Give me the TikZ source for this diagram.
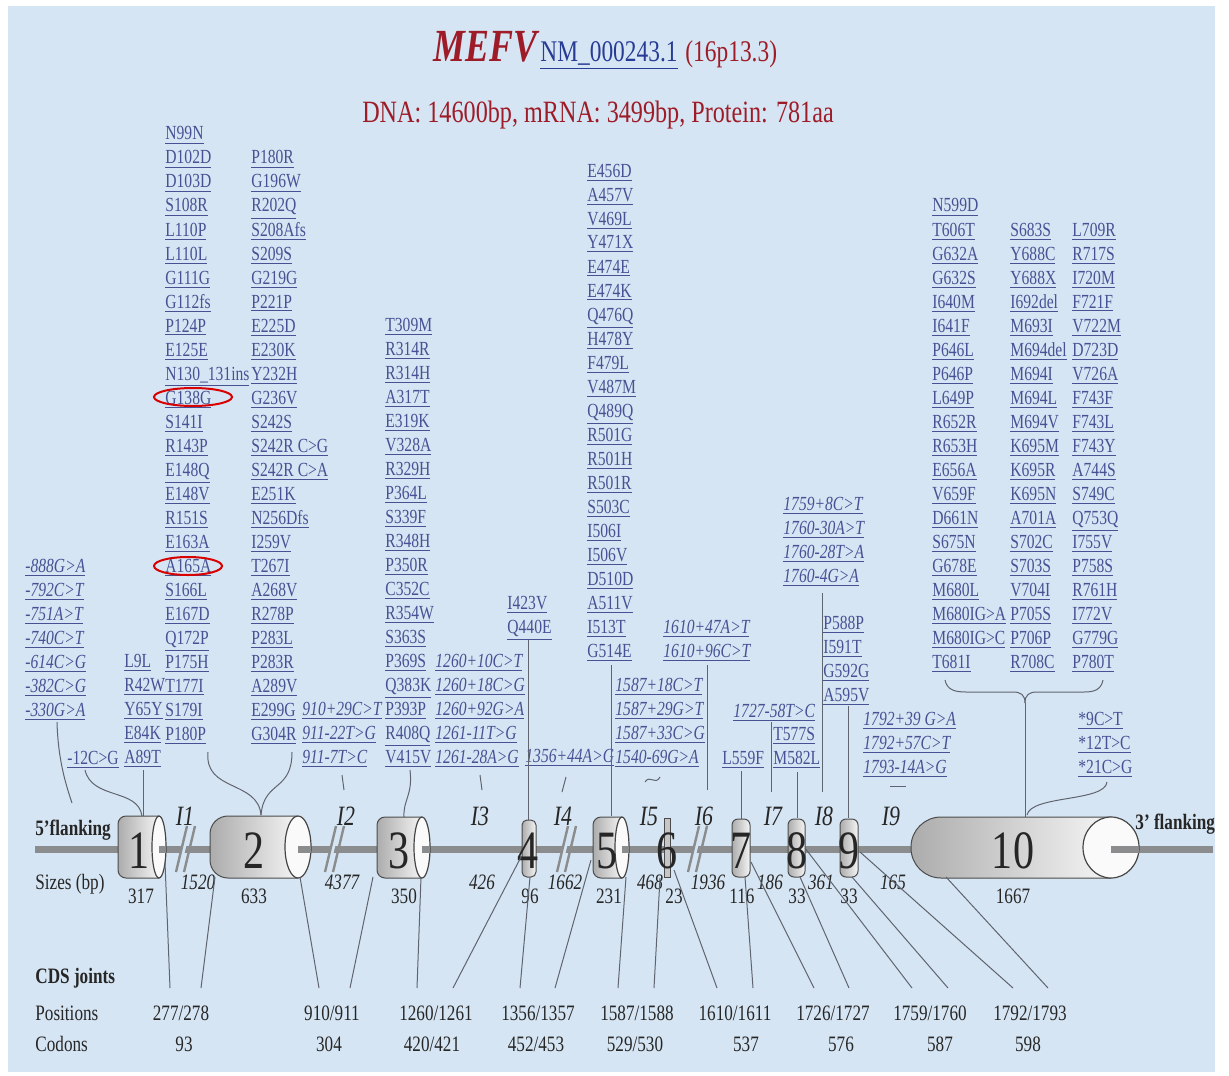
\documentclass[tikz,border=0pt]{standalone}
\usepackage{fontspec}
\setmainfont{Liberation Serif}[FakeStretch=0.78]
\definecolor{bgc}{RGB}{214,229,243}
\definecolor{mutc}{RGB}{70,82,148}
\definecolor{titred}{RGB}{158,28,40}
\definecolor{nmblue}{RGB}{40,60,150}
\definecolor{connc}{RGB}{95,100,110}
\definecolor{genec}{RGB}{138,140,142}
\newcommand\mcol[5]{\foreach \mtxt [count=\i from 0] in {#5} {\node[#4] (#1\i) at (#2,{#3+7+24*\i}) {\underline{\mtxt}};}}
\begin{document}
\begin{tikzpicture}[x=0.5pt,y=-0.5pt,
  mut/.style={font=\fontsize{10}{12}\selectfont, text=mutc, inner sep=0pt, anchor=base west},
  imut/.style={mut, font=\fontsize{10}{12}\selectfont\itshape},
  conn/.style={draw=connc, line width=0.5pt},
  geneline/.style={draw=genec, line width=3.5pt},
  exshade/.style={left color=gray!65, right color=gray!8},
  exedge/.style={draw=gray!60!black, line width=0.5pt},
  capst/.style={fill=gray!4, draw=gray!55!black, line width=0.6pt},
  exnum/.style={font=\fontsize{27}{30}\selectfont, text=black!85, inner sep=0pt, anchor=base},
  intr/.style={font=\fontsize{14}{16}\selectfont\itshape, text=black!85, inner sep=0pt, anchor=base},
  szu/.style={font=\fontsize{11}{13}\selectfont, text=black!85, inner sep=0pt, anchor=base},
  szi/.style={szu, font=\fontsize{11}{13}\selectfont\itshape},
  lbl/.style={font=\fontsize{11}{13}\selectfont, text=black!85, inner sep=0pt, anchor=base west},
  blbl/.style={font=\fontsize{11}{13}\selectfont\bfseries, text=black!85, inner sep=0pt, anchor=base west},
  brk/.style={draw=genec, line width=1.2pt},
  redring/.style={draw=red!85!black, line width=1pt}
]
\useasboundingbox (0,0) rectangle (1229,1075);
\fill[white] (0,0) rectangle (1229,1075);
\fill[bgc] (8,6) rectangle (1215,1072);

% ---------- title ----------
\node[anchor=base west, inner sep=0pt, text=titred, font=\fontsize{23}{27}\selectfont\bfseries\itshape] (mefv) at (433,62) {MEFV};
\node[anchor=base west, inner sep=0pt, text=nmblue, font=\fontsize{15}{18}\selectfont] (nm) at (540,62) {\underline{NM\_000243.1}};
\node[anchor=base west, inner sep=0pt, text=titred, font=\fontsize{15}{18}\selectfont] (loc) at (685,62) {(16p13.3)};
\node[anchor=base, inner sep=0pt, text=titred, font=\fontsize{15.5}{18}\selectfont] (dna) at (598,123) {DNA: 14600bp, mRNA: 3499bp, Protein: 781aa};

% ---------- mutation lists ----------
\mcol{cA}{165}{133}{mut}{N99N,D102D,D103D,S108R,L110P,L110L,G111G,G112fs,P124P,E125E,N130\_131ins,G138G,S141I,R143P,E148Q,E148V,R151S,E163A,A165A,S166L,E167D,Q172P,P175H,T177I,S179I,P180P}
\mcol{cB}{251}{157}{mut}{P180R,G196W,R202Q,S208Afs,S209S,G219G,P221P,E225D,E230K,Y232H,G236V,S242S,S242R C>G,S242R C>A,E251K,N256Dfs,I259V,T267I,A268V,R278P,P283L,P283R,A289V,E299G,G304R}
\mcol{cE}{124}{660}{mut}{L9L,R42W,Y65Y,E84K,A89T}
\node[mut] (m12) at (67,764) {\underline{-12C>G}};
\mcol{cF}{25}{565}{imut}{-888G>A,-792C>T,-751A>T,-740C>T,-614C>G,-382C>G,-330G>A}
\mcol{cI2}{302}{708}{imut}{910+29C>T,911-22T>G,911-7T>C}
\mcol{cC}{385}{324}{mut}{T309M,R314R,R314H,A317T,E319K,V328A,R329H,P364L,S339F,R348H,P350R,C352C,R354W,S363S,P369S,Q383K,P393P,R408Q,V415V}
\mcol{cI3}{435}{660}{imut}{1260+10C>T,1260+18C>G,1260+92G>A,1261-11T>G,1261-28A>G}
\mcol{cD}{507}{602}{mut}{I423V,Q440E}
\node[imut] (i4) at (525,762) {\underline{1356+44A>G}};
\mcol{cG}{587}{170}{mut}{E456D,A457V,V469L,Y471X,E474E,E474K,Q476Q,H478Y,F479L,V487M,Q489Q,R501G,R501H,R501R,S503C,I506I,I506V,D510D,A511V,I513T,G514E}
\mcol{cI5}{615}{684}{imut}{1587+18C>T,1587+29G>T,1587+33C>G,1540-69G>A}
\mcol{cI6}{663}{626}{imut}{1610+47A>T,1610+96C>T}
\node[mut] (e7) at (722,764) {\underline{L559F}};
\node[imut] (i7) at (733,717) {\underline{1727-58T>C}};
\mcol{cH}{773}{733}{mut}{T577S,M582L}
\mcol{cI8}{783}{503}{imut}{1759+8C>T,1760-30A>T,1760-28T>A,1760-4G>A}
\mcol{cJ}{823}{622}{mut}{P588P,I591T,G592G,A595V}
\mcol{cI9}{863}{718}{imut}{1792+39 G>A,1792+57C>T,1793-14A>G}
\mcol{cK}{932}{205}{mut}{N599D,T606T,G632A,G632S,I640M,I641F,P646L,P646P,L649P,R652R,R653H,E656A,V659F,D661N,S675N,G678E,M680L,M680IG>A,M680IG>C,T681I}
\mcol{cL}{1010}{229}{mut}{S683S,Y688C,Y688X,I692del,M693I,M694del,M694I,M694L,M694V,K695M,K695R,K695N,A701A,S702C,S703S,V704I,P705S,P706P,R708C}
\mcol{cM}{1072}{229}{mut}{L709R,R717S,I720M,F721F,V722M,D723D,V726A,F743F,F743L,F743Y,A744S,S749C,Q753Q,I755V,P758S,R761H,I772V,G779G,P780T}
\mcol{cU}{1078}{718}{mut}{*9C>T,*12T>C,*21C>G}

% red rings
\draw[redring] (193,397) ellipse [x radius=19.5pt, y radius=4.5pt];
\draw[redring] (188,566) ellipse [x radius=17pt, y radius=4.5pt];

% ---------- upper connectors ----------
\draw[conn] (57,722) coordinate (u1a) .. controls (58,760) and (66,785) .. (72,803) coordinate (u1b);
\draw[conn] (85,770) coordinate (u2a) .. controls (92,800) and (138,788) .. (142,816) coordinate (u2b);
\draw[conn] (143,770) coordinate (u3a) -- (143,816) coordinate (u3b);
\draw[conn] (208,752) coordinate (u4a) .. controls (204,792) and (258,780) .. (261,815) coordinate (u4b);
\draw[conn] (292,752) coordinate (u5a) .. controls (292,792) and (264,780) .. (u4b);
\draw[conn] (342,775) coordinate (u6a) -- (344,790) coordinate (u6b);
\draw[conn] (410,770) coordinate (u7a) .. controls (413,795) and (403,800) .. (404,817) coordinate (u7b);
\draw[conn] (480,775) coordinate (u8a) -- (482,790) coordinate (u8b);
\draw[conn] (528,640) coordinate (u9a) -- (528,820) coordinate (u9b);
\draw[conn] (566,777) coordinate (u10a) -- (562,792) coordinate (u10b);
\draw[conn] (611,665) coordinate (u11a) -- (611,816) coordinate (u11b);
\draw[conn] (645,782) coordinate (u12a) .. controls (650,774) and (655,786) .. (660,777) coordinate (u12b);
\draw[conn] (707,665) coordinate (u13a) -- (707,790) coordinate (u13b);
\draw[conn] (741,771) coordinate (u14a) -- (741,820) coordinate (u14b);
\draw[conn] (771,722) coordinate (u15a) -- (771,792) coordinate (u15b);
\draw[conn] (797,772) coordinate (u16a) -- (797,818) coordinate (u16b);
\draw[conn] (822,593) coordinate (u17a) -- (822,792) coordinate (u17b);
\draw[conn] (848,706) coordinate (u18a) -- (848,818) coordinate (u18b);
\draw[conn] (890,786) coordinate (u19a) -- (906,786) coordinate (u19b);
\draw[conn] (945,680) coordinate (br1) .. controls (947,690) and (955,692) .. (966,692) -- (1013,692) .. controls (1021,692) and (1025,695) .. (1025,703) coordinate (brt);
\draw[conn] (1103,680) coordinate (br2) .. controls (1101,690) and (1094,692) .. (1084,692) -- (1037,692) .. controls (1029,692) and (1025,695) .. (brt);
\draw[conn] (brt) -- (1025,818) coordinate (u20b);
\draw[conn] (1107,782) coordinate (u21a) .. controls (1105,802) and (1031,795) .. (1027,815) coordinate (u21b);

% ---------- gene line ----------
\draw[geneline] (35,849) coordinate (g0) -- (1213,849) coordinate (g1);
% breaks
\foreach \bx [count=\k] in {176,325,557,688} {
  \fill[bgc] (\bx+2,863) -- (\bx+9,835) -- (\bx+13,835) -- (\bx+6,863) -- cycle;
  \draw[brk] (\bx,872) -- (\bx+11,826);
  \draw[brk] (\bx+8,872) -- (\bx+19,826);
}

% ---------- exons ----------
% exon 1
\shade[exshade] (159,816) [rounded corners=4pt] -- (118,816) -- (118,878) [sharp corners] -- (159,878) -- cycle;
\draw[exedge] (159,816) [rounded corners=4pt] -- (118,816) -- (118,878) [sharp corners] -- (159,878);
\draw[capst] (159,847) ellipse [x radius=3.5pt, y radius=15.5pt];
\draw[geneline] (159,849) -- (166,849);
% exon 2
\shade[exshade] (298,816) [rounded corners=9pt] -- (210,816) -- (210,878) [sharp corners] -- (298,878) -- cycle;
\draw[exedge] (298,816) [rounded corners=9pt] -- (210,816) -- (210,878) [sharp corners] -- (298,878);
\draw[capst] (298,847) ellipse [x radius=6.5pt, y radius=15.5pt];
\draw[geneline] (298,849) -- (311,849);
% exon 3
\shade[exshade] (422,817) [rounded corners=4pt] -- (377,817) -- (377,878) [sharp corners] -- (422,878) -- cycle;
\draw[exedge] (422,817) [rounded corners=4pt] -- (377,817) -- (377,878) [sharp corners] -- (422,878);
\draw[capst] (422,847.5) ellipse [x radius=4pt, y radius=15.25pt];
\draw[geneline] (422,849) -- (430,849);
% exon 4
\shade[exshade, rounded corners=2.5pt] (522,820) rectangle (536,877);
\draw[exedge, rounded corners=2.5pt] (522,820) rectangle (536,877);
% exon 5
\shade[exshade] (622,817) [rounded corners=4pt] -- (593,817) -- (593,878) [sharp corners] -- (622,878) -- cycle;
\draw[exedge] (622,817) [rounded corners=4pt] -- (593,817) -- (593,878) [sharp corners] -- (622,878);
\draw[capst] (622,847.5) ellipse [x radius=3.5pt, y radius=15.25pt];
\draw[geneline] (622,849) -- (629,849);
% exon 6
\fill[gray!45, draw=gray!60!black, line width=0.4pt] (664,818) rectangle (670,877);
% exons 7, 8, 9
\foreach \xa/\xb in {732/750, 788/805, 840/858} {
  \shade[exshade, rounded corners=3pt] (\xa,819) rectangle (\xb,877);
  \draw[exedge, rounded corners=3pt] (\xa,819) rectangle (\xb,877);
}
% exon 10
\shade[exshade] (1111,817) [rounded corners=15pt] -- (911,817) -- (911,878) [sharp corners] -- (1111,878) -- cycle;
\draw[exedge] (1111,817) [rounded corners=15pt] -- (911,817) -- (911,878) [sharp corners] -- (1111,878);
\draw[capst] (1111,847.5) ellipse [x radius=14pt, y radius=15.25pt];
\draw[geneline] (1111,849) -- (1139,849);

% exon numbers
\node[exnum] (n1) at (139,868) {1};
\node[exnum] (n2) at (254,868) {2};
\node[exnum] (n3) at (399,868) {3};
\node[exnum] (n4) at (528,868) {4};
\node[exnum] (n5) at (607,868) {5};
\node[exnum] (n6) at (667,868) {6};
\node[exnum] (n7) at (741,868) {7};
\node[exnum] (n8) at (797,868) {8};
\node[exnum] (n9) at (849,868) {9};
\node[exnum] (n10) at (1013,868) {10};

% intron labels
\foreach \x/\t [count=\k] in {185/I1,346/I2,480/I3,563/I4,649/I5,704/I6,773/I7,824/I8,891/I9}
  \node[intr] (in\k) at (\x,825) {\t};

% side labels
\node[blbl] (fl5) at (35,835) {5'flanking};
\node[lbl] (sz) at (35,889) {Sizes (bp)};
\node[blbl] (fl3) at (1135,829) {3' flanking};

% sizes
\foreach \x/\t [count=\k] in {141/317,254/633,404/350,530/96,609/231,674/23,742/116,797/33,849/33,1013/1667}
  \node[szu] (se\k) at (\x,903) {\t};
\foreach \x/\t [count=\k] in {198/1520,342/4377,482/426,565/1662,650/468,708/1936,770/186,821/361,893/165}
  \node[szi] (si\k) at (\x,889) {\t};

% ---------- lower connectors ----------
\foreach \xa/\ya/\xb [count=\k] in {165/862/170, 215/877/201, 300/877/319, 373/877/350, 421/877/417, 521/857/453, 530/877/520, 591/860/555, 626/877/618, 660/878/654, 674/870/717, 745/877/753, 751/862/814, 800/877/849, 805/848/912, 852/877/948, 860/852/1013, 946/877/1048}
  \draw[conn] (\xa,\ya) coordinate (ls\k) -- (\xb,988) coordinate (le\k);

% ---------- CDS joints ----------
\node[blbl] (cdsj) at (35,983) {CDS joints};
\node[lbl] (posl) at (35,1020) {Positions};
\node[lbl] (codl) at (35,1051) {Codons};
\node[szu] (pos1) at (181,1020) {277/278};
\node[szu] (pos2) at (332,1020) {910/911};
\node[szu] (pos3) at (436,1020) {1260/1261};
\node[szu] (pos4) at (538,1020) {1356/1357};
\node[szu] (pos5) at (637,1020) {1587/1588};
\node[szu] (pos6) at (735,1020) {1610/1611};
\node[szu] (pos7) at (833,1020) {1726/1727};
\node[szu] (pos8) at (930,1020) {1759/1760};
\node[szu] (pos9) at (1030,1020) {1792/1793};
\node[szu] (cod1) at (184,1051) {93};
\node[szu] (cod2) at (329,1051) {304};
\node[szu] (cod3) at (432,1051) {420/421};
\node[szu] (cod4) at (536,1051) {452/453};
\node[szu] (cod5) at (635,1051) {529/530};
\node[szu] (cod6) at (746,1051) {537};
\node[szu] (cod7) at (841,1051) {576};
\node[szu] (cod8) at (940,1051) {587};
\node[szu] (cod9) at (1028,1051) {598};
\end{tikzpicture}
\end{document}
